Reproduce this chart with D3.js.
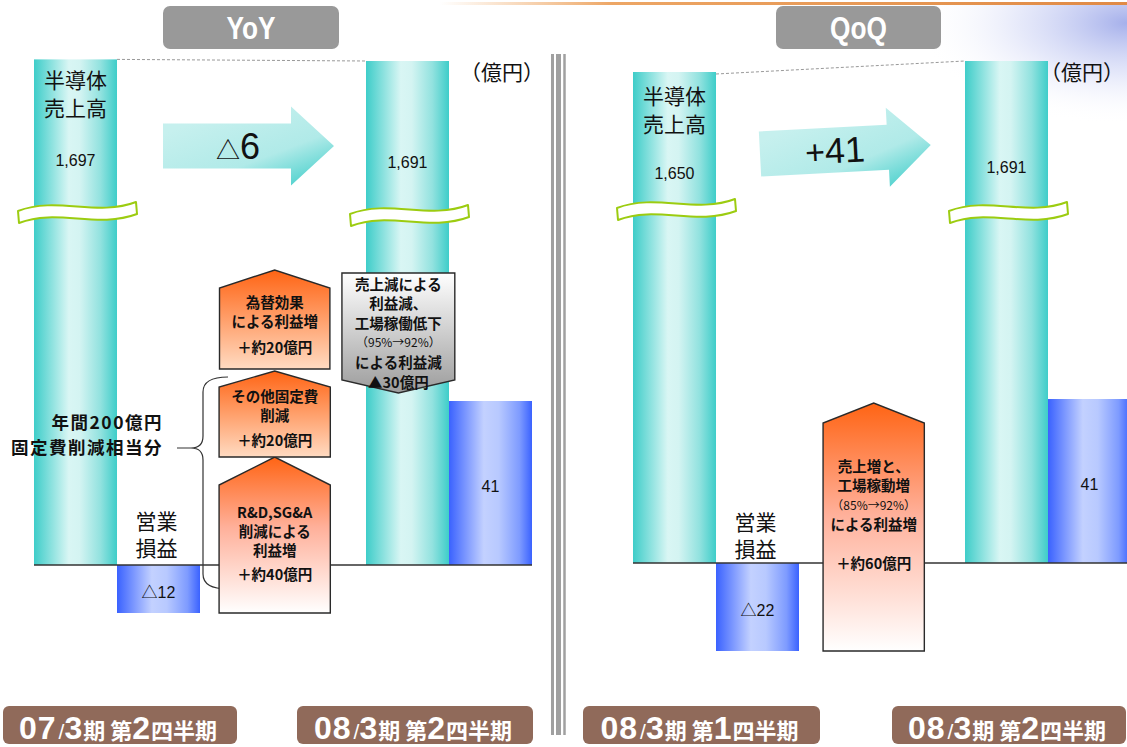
<!DOCTYPE html>
<html><head><meta charset="utf-8">
<script src="https://cdn.jsdelivr.net/npm/d3@7/dist/d3.min.js"></script>
<style>
html,body{margin:0;padding:0;background:#fff;}
svg{display:block;font-family:"Liberation Sans","Noto Sans CJK JP",sans-serif;}
</style></head><body>
<svg id="c" width="1127" height="747"></svg>
<script>
// ---------------- data ----------------
const panelTitles = ["YoY", "QoQ"];
const periods = ["07/3期 第2四半期", "08/3期 第2四半期", "08/3期 第1四半期", "08/3期 第2四半期"];
const salesValues = [1697, 1691, 1650, 1691];
const salesLabels = ["1,697", "1,691", "1,650", "1,691"];
const opValues = [-12, 41, -22, 41];
const opLabels = ["△12", "41", "△22", "41"];
const salesChange = ["△6", "+41"];
const salesTitle = ["半導体", "売上高"];
const opTitle = ["営業", "損益"];
const unitLabel = "（億円）";
// waterfall steps (億円): start -> end
const yoyStepStart = [-12, 27, 49, 73];
const yoyStepEnd = [27, 48.5, 73.75, 43];
const yoyStepText = [
  ["R&D,SG&A", "削減による", "利益増", "＋約40億円"],
  ["その他固定費", "削減", "＋約20億円"],
  ["為替効果", "による利益増", "＋約20億円"],
  ["売上減による", "利益減、", "工場稼働低下", "（95%→92%）", "による利益減", "▲30億円"]
];
const qoqStepStart = [-22];
const qoqStepEnd = [40];
const qoqStepText = [["売上増と、", "工場稼動増", "（85%→92%）", "による利益増", "", "＋約60億円"]];
const braceText = ["年間200億円", "固定費削減相当分"];

// ---------------- drawing ----------------
const svg = d3.select("#c");
const defs = svg.append("defs");
function linGrad(id, stops, x1 = 0, y1 = 0, x2 = 1, y2 = 0) {
  const g = defs.append("linearGradient").attr("id", id)
    .attr("x1", x1).attr("y1", y1).attr("x2", x2).attr("y2", y2);
  stops.forEach(([o, c, op]) => g.append("stop").attr("offset", o).attr("stop-color", c).attr("stop-opacity", op == null ? 1 : op));
}
linGrad("teal", [[0, "#3ECDC9"], [0.42, "#D9F6F4"], [0.55, "#D4F4F2"], [0.8, "#92E2DF"], [1, "#3ECDC9"]]);
linGrad("blue", [[0, "#3A62FF"], [0.42, "#C3D1FF"], [0.6, "#B8C9FF"], [0.85, "#7E9BFF"], [1, "#3A62FF"]]);
linGrad("arrowG", [[0, "#C6F0EE"], [0.55, "#B0EAE8"], [1, "#3CCDC9"]], 0.3, 0.1, 1, 0.95);
linGrad("orShort", [[0, "#FF6414"], [1, "#FFDBC2"]], 0, 0, 0, 1);
linGrad("orLong", [[0, "#FF6414"], [0.45, "#FFB09A"], [1, "#FFFFFF"]], 0, 0, 0, 1);
linGrad("grayG", [[0, "#FFFFFF"], [1, "#9C9C9C"]], 0, 0, 0, 1);
linGrad("topLine", [[0, "#F2B070", 0], [0.25, "#EDA665", 1], [1, "#E08A45", 1]]);
const rg = defs.append("radialGradient").attr("id", "decor").attr("cx", 1).attr("cy", 0.15).attr("r", 0.85);
[[0, "#7F8EE2", 0.7], [0.5, "#B5BEF0", 0.35], [1, "#FFFFFF", 0]].forEach(([o, c, op]) =>
  rg.append("stop").attr("offset", o).attr("stop-color", c).attr("stop-opacity", op));

// decoration
svg.append("rect").attr("x", 880).attr("y", 5).attr("width", 247).attr("height", 120).attr("fill", "url(#decor)");
svg.append("rect").attr("x", 440).attr("y", 2).attr("width", 687).attr("height", 3).attr("fill", "url(#topLine)");

// separator
[[552.5, 3], [558.5, 5], [564.5, 2.5]].forEach(([x, w]) =>
  svg.append("line").attr("x1", x).attr("x2", x).attr("y1", 54).attr("y2", 735)
    .attr("stroke", "#A0A0A0").attr("stroke-width", w));

const ySales = d3.scaleLinear().domain([1650, 1691]).range([72, 61]);

const panels = [
  { x0: 34, baseline: 565, lineEnd: 532, titleBox: [163, 339], arrow: [163, 146, 0], unitX: 460,
    breakY: [202, 205], labelBoxes: [[3, 237], [297, 533]],
    steps: yoyStepStart.map((s, i) => ({ start: s, end: yoyStepEnd[i], text: yoyStepText[i] })),
    stepLayout: [
      { c: 2.9, w: 1.34, ph: 28, first: 27, step: 19, plusGap: 5, fill: "url(#orLong)" },
      { c: 2.9, w: 1.34, ph: 16, first: 9, step: 19, plusGap: 6, fill: "url(#orShort)" },
      { c: 2.9, w: 1.33, ph: 18, first: 14, step: 19, plusGap: 7, fill: "url(#orShort)" },
      { c: 4.39, w: 1.36, ph: 13, first: 11, step: 19.6, plusGap: 0, fill: "url(#grayG)" }
    ], brace: true },
  { x0: 633, baseline: 563, lineEnd: 1127, titleBox: [776, 941], arrow: [760, 154, -3], unitX: 1040,
    breakY: [199, 202], labelBoxes: [[583, 820], [892, 1126]],
    steps: qoqStepStart.map((s, i) => ({ start: s, end: qoqStepEnd[i], text: qoqStepText[i] })),
    stepLayout: [{ c: 2.9, w: 1.22, ph: 20, first: 43, step: 19.5, plusGap: 0, fill: "url(#orLong)" }],
    brace: false }
];

panels.forEach((p, pi) => {
  const g = svg.append("g");
  const x = d3.scaleLinear().domain([0, 6]).range([p.x0, p.x0 + 498]);
  const y = d3.scaleLinear().domain([0, 41]).range([p.baseline, p.baseline - 164]);
  const slot = x(1) - x(0);
  const i0 = pi * 2, i1 = pi * 2 + 1;
  const bars = [
    { sales: salesValues[i0], op: opValues[i0], sl: salesLabels[i0], ol: opLabels[i0], s: 0, brk: p.breakY[0] },
    { sales: salesValues[i1], op: opValues[i1], sl: salesLabels[i1], ol: opLabels[i1], s: 4, brk: p.breakY[1] }
  ];

  // title box
  g.append("rect").attr("x", p.titleBox[0]).attr("y", 6).attr("width", p.titleBox[1] - p.titleBox[0]).attr("height", 43)
    .attr("rx", 7).attr("fill", "#999999");
  const tc = (p.titleBox[0] + p.titleBox[1]) / 2;
  g.append("text").attr("transform", `translate(${tc},39) scale(0.82,1)`).attr("text-anchor", "middle")
    .attr("font-size", 32).attr("font-weight", 700).attr("fill", "#fff").text(panelTitles[pi]);

  // sales bars
  bars.forEach(b => {
    const top = ySales(b.sales);
    g.append("rect").attr("x", x(b.s)).attr("y", top).attr("width", slot).attr("height", p.baseline - top)
      .attr("fill", "url(#teal)");
  });
  // operating profit bars
  bars.forEach(b => {
    const y0 = y(Math.max(0, b.op)), y1 = y(Math.min(0, b.op));
    g.append("rect").attr("x", x(b.s + 1)).attr("y", y0).attr("width", slot).attr("height", y1 - y0)
      .attr("fill", "url(#blue)");
  });
  // wave breaks
  bars.forEach(b => {
    const W = 118, sx = x(b.s) - 16, yy = b.brk;
    const d = `M${sx},${yy + 9} C${sx + W * 0.33},${yy - 6} ${sx + W * 0.67},${yy + 15} ${sx + W},${yy}
      L${sx + W + 1},${yy + 12} C${sx + W * 0.67},${yy + 27} ${sx + W * 0.33},${yy + 6} ${sx + 1},${yy + 21} Z`;
    g.append("path").attr("d", d).attr("fill", "#fff").attr("stroke", "#9CCC10").attr("stroke-width", 2)
      .attr("stroke-linejoin", "round");
  });
  // baseline
  g.append("line").attr("x1", x(0)).attr("x2", p.lineEnd).attr("y1", p.baseline).attr("y2", p.baseline)
    .attr("stroke", "#333").attr("stroke-width", 1.5);
  // dashed connector
  g.append("line").attr("x1", x(1)).attr("y1", ySales(bars[0].sales) + (pi ? 2 : 0))
    .attr("x2", x(4)).attr("y2", ySales(bars[1].sales))
    .attr("stroke", "#999").attr("stroke-width", 1).attr("stroke-dasharray", "3,2");

  // arrow
  const [ax, ay, ar] = p.arrow;
  const ag = g.append("g").attr("transform", `translate(${ax},${ay}) rotate(${ar})`);
  ag.append("path").attr("d", "M0,-22.5 L128,-22.5 L128,-39.5 L171,0 L128,39.5 L128,22.5 L0,22.5 Z")
    .attr("fill", "url(#arrowG)");
  const ch = salesChange[pi];
  const at = ag.append("text").attr("x", 75).attr("y", 13).attr("text-anchor", "middle").attr("fill", "#111");
  at.append("tspan").attr("font-size", ch[0] === "△" ? 24 : 34).attr("font-family", ch[0] === "△" ? "Noto Sans CJK JP" : "Liberation Sans").text(ch[0]);
  at.append("tspan").attr("font-size", 36).text(ch.slice(1));

  // sales labels
  const b0 = bars[0];
  const topA = ySales(b0.sales) + (pi ? 3 : 0);
  salesTitle.forEach((t, k) => g.append("text").attr("x", x(0.5)).attr("y", topA + 29 + k * 28)
    .attr("text-anchor", "middle").attr("font-size", 21).attr("fill", "#111").text(t));
  bars.forEach((b, k) => g.append("text").attr("x", x(b.s + 0.5)).attr("y", ySales(b.sales) + 107 + (pi && k ? 5 : 0))
    .attr("text-anchor", "middle").attr("font-size", 16).attr("fill", "#111").text(b.sl));
  // op labels
  opTitle.forEach((t, k) => g.append("text").attr("x", x(1.5) - 2).attr("y", p.baseline - 33 + k * 27 - (pi ? 0 : 3))
    .attr("text-anchor", "middle").attr("font-size", 21).attr("fill", "#111").text(t));
  bars.forEach(b => g.append("text").attr("x", x(b.s + 1.5)).attr("y", (y(b.op) + y(0)) / 2 + 9)
    .attr("text-anchor", "middle").attr("font-size", 16).attr("fill", "#111").text(b.ol));

  // unit
  g.append("text").attr("x", p.unitX).attr("y", 80).attr("font-size", 21).attr("fill", "#111")
    .attr("font-family", "Noto Sans CJK JP").text(unitLabel);

  // brace
  if (p.brace) {
    g.append("path").attr("d", "M228,377 Q203,377 203,392 L203,436 Q203,448 191,448 Q203,448 203,460 L203,574 Q203,589 228,589 M177,448 L191,448")
      .attr("fill", "none").attr("stroke", "#333").attr("stroke-width", 1.2);
    braceText.forEach((t, k) => g.append("text").attr("x", 163).attr("y", 429 + k * 25)
      .attr("text-anchor", "end").attr("font-size", 17.5).attr("font-weight", 700).attr("letter-spacing", 1.5)
      .attr("font-family", "Noto Sans CJK JP").attr("fill", "#111").text(t));
  }

  // waterfall steps
  p.steps.forEach((st, k) => {
    const L = p.stepLayout[k];
    const y0 = y(st.start), y1 = y(st.end);
    const up = y1 < y0;
    const sh = up ? y1 + L.ph : y1 - L.ph;
    const xl = x(L.c - L.w / 2), xr = x(L.c + L.w / 2), xc = x(L.c);
    g.append("path").attr("d", `M${xl},${y0} L${xl},${sh} L${xc},${y1} L${xr},${sh} L${xr},${y0} Z`)
      .attr("fill", L.fill).attr("stroke", "#2A2A2A").attr("stroke-width", 1.4).attr("stroke-linejoin", "miter");
    const textTop = up ? sh : y0;
    st.text.forEach((t, j) => {
      if (!t) return;
      const small = /^[（(]/.test(t);
      const plus = /^[＋+]/.test(t) ? L.plusGap : 0;
      g.append("text").attr("x", xc).attr("y", textTop + L.first + j * L.step + plus + (small ? 4.5 : 5.5))
        .attr("text-anchor", "middle").attr("font-family", "Noto Sans CJK JP")
        .attr("font-size", small ? 12 : 14.5).attr("font-weight", small ? 400 : 700).attr("fill", "#111").text(t);
    });
  });

  // period labels
  p.labelBoxes.forEach(([a, bb], k) => {
    g.append("rect").attr("x", a).attr("y", 706).attr("width", bb - a).attr("height", 38).attr("rx", 6).attr("fill", "#906A5A");
    const tx = g.append("text").attr("x", (a + bb) / 2 - 2).attr("y", 739).attr("text-anchor", "middle").attr("fill", "#fff");
    periods[pi * 2 + k].match(/\d+|\/|[^\d\/]+/g).forEach(run => {
      const ts = tx.append("tspan");
      if (/^\d+$/.test(run)) ts.attr("font-size", 32).attr("font-weight", 700).attr("letter-spacing", 1).attr("font-family", "Liberation Sans");
      else if (run === "/") ts.attr("font-size", 21).attr("font-weight", 400).attr("dx", 2).attr("dy", 0);
      else ts.attr("font-size", 22).attr("font-weight", 700).attr("font-family", "Noto Sans CJK JP");
      ts.text(run);
    });
  });
});
</script>
</body></html>
